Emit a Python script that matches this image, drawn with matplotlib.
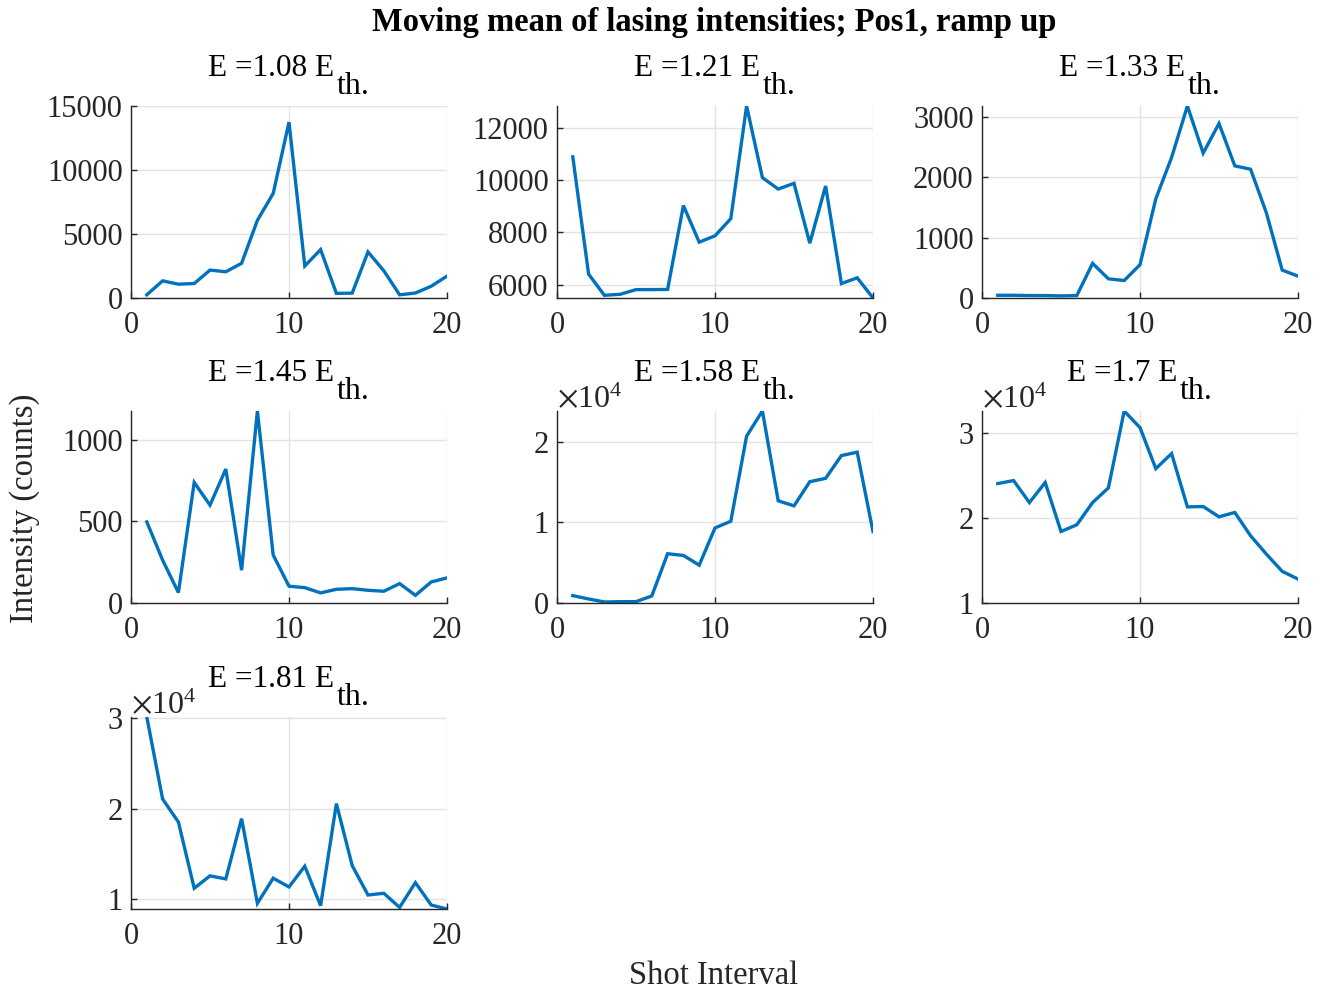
import matplotlib
matplotlib.use("Agg")
import matplotlib.pyplot as plt
from matplotlib.ticker import ScalarFormatter, FixedLocator
import numpy as np

plt.rcParams['font.family'] = ['Liberation Serif', 'DejaVu Serif']
plt.rcParams['mathtext.fontset'] = 'stix'

shots = list(range(1, 21))

energies = ["1.08", "1.21", "1.33", "1.45", "1.58", "1.7", "1.81"]

I_108 = [250, 1340, 1080, 1130, 2180, 2050, 2710, 6070, 8170, 13740,
         2500, 3780, 360, 380, 3600, 2130, 250, 390, 920, 1710]
I_121 = [10890, 6405, 5595, 5634, 5813, 5813, 5820, 9029, 7627, 7871,
         8527, 12836, 10096, 9659, 9878, 7588, 9775, 6045, 6264, 5492]
I_133 = [45, 45, 40, 40, 35, 40, 574, 318, 290, 552,
         1645, 2331, 3185, 2404, 2895, 2192, 2136, 1411, 463, 363]
I_145 = [497, 263, 64, 739, 600, 821, 201, 1177, 294, 103,
         94, 62, 84, 88, 78, 72, 119, 47, 129, 154]
I_158 = [915, 500, 125, 166, 166, 873, 6112, 5904, 4699, 9314,
         10146, 20707, 23825, 12682, 12058, 15052, 15468, 18295, 18711, 8857]
I_170 = [24080, 24430, 21840, 24200, 18430, 19220, 21840, 23570, 32630, 30670,
         25840, 27610, 21330, 21370, 20160, 20670, 17920, 15760, 13730, 12820]
I_181 = [30150, 21070, 18520, 11190, 12560, 12220, 18890, 9520, 12300, 11330,
         13630, 9260, 20560, 13700, 10440, 10630, 9070, 11810, 9330, 8890]

series = [I_108, I_121, I_133, I_145, I_158, I_170, I_181]
ylims = [(0, 15000), (5492, 12836), (0, 3185), (0, 1177),
         (0, 23825), (10000, 32630), (8890, 30150)]
yticks = [[0, 5000, 10000, 15000], [6000, 8000, 10000, 12000],
          [0, 1000, 2000, 3000], [0, 500, 1000],
          [0, 10000, 20000], [10000, 20000, 30000], [10000, 20000, 30000]]
sci = [False, False, False, False, True, True, True]

W, H = 1328, 994
fig = plt.figure(figsize=(W / 100, H / 100), dpi=100)
renderer = fig.canvas.get_renderer()

col_x = [131, 557, 982]
row_top = [106, 411, 717]
aw, ah = 316, 192

line_color = '#0072BD'
axis_color = '#262626'
grid_color = '#E3E3E3'
fs = 22
tfs = 22.5
sfs = 23

for i, (vals, e) in enumerate(zip(series, energies)):
    r, c = divmod(i, 3)
    left = col_x[c] / W
    bottom = 1 - (row_top[r] + ah) / H
    ax = fig.add_axes([left, bottom, aw / W, ah / H])
    ax.plot(shots, vals, color=line_color, lw=2.4, solid_joinstyle='miter')
    ax.set_xlim(0, 20)
    ax.set_ylim(*ylims[i])
    ax.set_xticks([0, 10, 20])
    ax.yaxis.set_major_locator(FixedLocator(yticks[i]))
    if sci[i]:
        f = ScalarFormatter(useMathText=True)
        f.set_powerlimits((0, 0))
        ax.yaxis.set_major_formatter(f)
        ax.yaxis.get_offset_text().set_fontsize(fs + 1)
        ax.yaxis.get_offset_text().set_color(axis_color)
    ax.grid(True, color=grid_color, lw=1.0)
    ax.set_axisbelow(True)
    for s in ['top', 'right']:
        ax.spines[s].set_visible(False)
    for s in ['left', 'bottom']:
        ax.spines[s].set_color(axis_color)
        ax.spines[s].set_linewidth(1.0)
    ax.tick_params(direction='in', length=4, width=1.0, color=axis_color,
                   labelsize=fs, labelcolor=axis_color)
    ax.tick_params(axis='x', pad=9)
    ax.tick_params(axis='y', pad=6)

    # title "E =x E" with a full-size, lowered "th." subscript
    t1 = ax.annotate('E =' + e + ' E', xy=(0.5, 1), xycoords='axes fraction',
                     xytext=(0, 30), textcoords='offset pixels',
                     ha='left', va='baseline', fontsize=tfs, color='black')
    t2 = ax.annotate('th.', xy=(0.5, 1), xycoords='axes fraction',
                     xytext=(0, 12), textcoords='offset pixels',
                     ha='left', va='baseline', fontsize=sfs, color='black')
    w1 = t1.get_window_extent(renderer).width
    w2 = t2.get_window_extent(renderer).width
    gap = 3
    tot = w1 + gap + w2
    t1.set_position((-tot / 2, 30))
    t2.set_position((-tot / 2 + w1 + gap, 12))

fig.text(714 / W, 1 - 22 / H, 'Moving mean of lasing intensities; Pos1, ramp up',
         ha='center', va='center', fontsize=23.5, fontweight='bold')
fig.text(714 / W, 1 - 976 / H, 'Shot Interval', ha='center', va='center',
         fontsize=23.5, color=axis_color)
fig.text(25 / W, 1 - 508 / H, 'Intensity (counts)', ha='center', va='center',
         rotation=90, fontsize=23.5, color=axis_color)

fig.savefig('out.png', dpi=100)
